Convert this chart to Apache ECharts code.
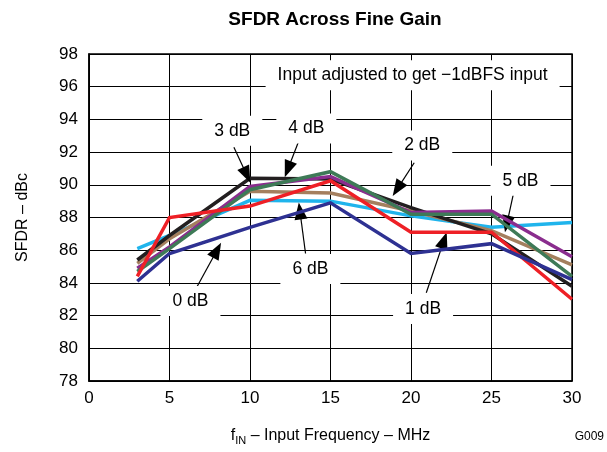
<!DOCTYPE html>
<html><head><meta charset="utf-8">
<script src="https://cdn.jsdelivr.net/npm/echarts@6/dist/echarts.min.js"></script>
<style>html,body{margin:0;padding:0;background:#fff}#c{width:607px;height:452px}</style>
</head><body><div id="c"></div>
<script>
// Data
const freqMHz = [3, 5, 10, 15, 20, 25, 30];
const xTicks = [0, 5, 10, 15, 20, 25, 30];
const yTicks = [78, 80, 82, 84, 86, 88, 90, 92, 94, 96, 98];
const sfdr0dB = [84.1, 85.8, 87.4, 88.9, 85.8, 86.4, 84.2];   // navy
const sfdr1dB = [84.4, 88.0, 88.7, 90.25, 87.1, 87.1, 83.0];  // red
const sfdr2dB = [85.2, 86.7, 89.6, 89.5, 88.4, 87.2, 85.1];   // brown
const sfdr3dB = [85.4, 86.9, 90.4, 90.35, 88.6, 87.0, 83.8];  // black
const sfdr4dB = [84.7, 86.1, 89.7, 90.8, 88.2, 88.2, 84.4];   // green
const sfdr5dB = [84.9, 86.2, 89.9, 90.5, 88.3, 88.4, 85.6];   // purple
const sfdr6dB = [86.1, 86.9, 89.05, 89.0, 88.1, 87.4, 87.7];  // cyan

// Annotation callouts (data coordinates): text, label point, arrow start, arrow tip
const callouts = [
  {text: '3 dB', at: [8.9, 93.3], from: [9.0, 92.3], to: [9.8, 90.6]},
  {text: '4 dB', at: [13.5, 93.45], from: [13.0, 92.6], to: [12.35, 90.95]},
  {text: '2 dB', at: [20.7, 92.4], from: [20.2, 91.35], to: [19.15, 89.75]},
  {text: '5 dB', at: [26.8, 90.25], from: [26.35, 89.4], to: [25.95, 87.6]},
  {text: '1 dB', at: [20.75, 82.4], from: [20.95, 83.4], to: [22.05, 86.6]},
  {text: '6 dB', at: [13.75, 84.85], from: [13.45, 85.8], to: [13.1, 88.4]},
  {text: '0 dB', at: [6.3, 82.9], from: [6.7, 83.75], to: [7.95, 86.0]}
];
const note = {text: 'Input adjusted to get \u22121dBFS input', at: [20.1, 96.7]};

const FONT = "'Liberation Sans', Arial, Helvetica, sans-serif";
const pairs = arr => freqMHz.map((f, i) => [f, arr[i]]);
const mk = (name, arr, color, z) => ({
  name, type: 'line', data: pairs(arr), symbol: 'none', z,
  lineStyle: {color, width: 3.5, join: 'miter'}, itemStyle: {color}
});

const chart = echarts.init(document.getElementById('c'), null, {renderer: 'canvas'});
chart.setOption({
  animation: false,
  backgroundColor: '#fff',
  title: {
    text: 'SFDR Across Fine Gain', left: 330, top: 5, textAlign: 'center',
    textStyle: {fontFamily: FONT, fontSize: 19, fontWeight: 'bold', color: '#000'}
  },
  grid: {left: 89, right: 35, top: 54, bottom: 71, show: true,
    borderColor: '#000', borderWidth: 1.5, backgroundColor: 'transparent'},
  xAxis: {
    type: 'value', min: 0, max: 30, interval: 5,
    name: '{a|f}{s|IN}{a| \u2013 Input Frequency \u2013 MHz}',
    nameLocation: 'middle', nameGap: 45,
    nameTextStyle: {rich: {
      a: {fontFamily: FONT, fontSize: 16, color: '#000'},
      s: {fontFamily: FONT, fontSize: 11, color: '#000', verticalAlign: 'bottom', padding: [9, 0, 0, 0]}
    }},
    axisLine: {show: true, lineStyle: {color: '#000', width: 1.5}},
    axisTick: {show: false},
    axisLabel: {fontFamily: FONT, fontSize: 17, color: '#000', margin: 9,
      formatter: v => xTicks.includes(v) ? String(v) : ''},
    splitLine: {show: true, lineStyle: {color: '#000', width: 1}}
  },
  yAxis: {
    type: 'value', min: 78, max: 98, interval: 2,
    name: 'SFDR \u2013 dBc', nameLocation: 'middle', nameGap: 58,
    nameTextStyle: {fontFamily: FONT, fontSize: 16, color: '#000'},
    axisLine: {show: true, lineStyle: {color: '#000', width: 1.5}},
    axisTick: {show: false},
    axisLabel: {fontFamily: FONT, fontSize: 17, color: '#000', margin: 11,
      formatter: v => yTicks.includes(v) ? String(v) : ''},
    splitLine: {show: true, lineStyle: {color: '#000', width: 1}}
  },
  graphic: [{
    type: 'text', right: 3, bottom: 9,
    style: {text: 'G009', fontFamily: FONT, fontSize: 12, fill: '#000'}
  }],
  series: [
    mk('6 dB', sfdr6dB, '#1FB4EC', 2),
    mk('2 dB', sfdr2dB, '#A47F5E', 3),
    mk('3 dB', sfdr3dB, '#231F20', 4),
    mk('5 dB', sfdr5dB, '#8A2D8E', 5),
    mk('4 dB', sfdr4dB, '#3E7A57', 6),
    mk('1 dB', sfdr1dB, '#EE2026', 7),
    mk('0 dB', sfdr0dB, '#2E3192', 8),
    {
      name: 'callouts', type: 'line', data: [], z: 9,
      markLine: {
        silent: true, symbol: ['none', 'triangle'], symbolSize: [13, 17],
        lineStyle: {color: '#000', width: 1.2, type: 'solid'},
        label: {show: false},
        data: callouts.map(c => [{coord: c.from}, {coord: c.to}])
      },
      markPoint: {
        silent: true, symbol: 'rect', symbolSize: 0,
        label: {show: true, position: 'inside', fontFamily: FONT, fontSize: 17.5, color: '#000',
          backgroundColor: '#fff', padding: [6, 12], formatter: p => p.name},
        data: callouts.map(c => ({name: c.text, coord: c.at}))
          .concat([{name: note.text, coord: note.at}])
      }
    }
  ]
});
</script>
</body></html>
